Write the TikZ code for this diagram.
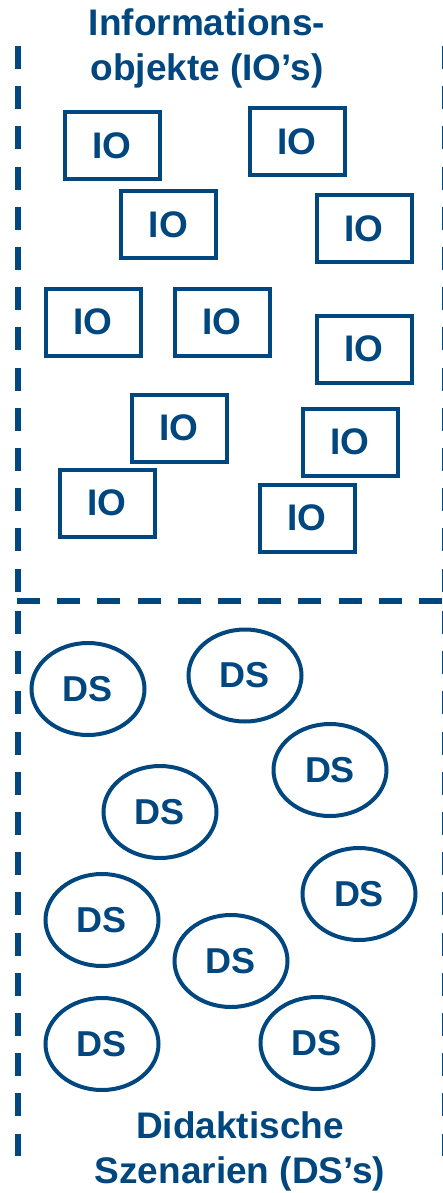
\documentclass[tikz,border=0pt]{standalone}
\usepackage{fontspec}
\setmainfont{Liberation Sans}
\usetikzlibrary{shapes.geometric}
\definecolor{darkblue}{RGB}{0,70,127}
\begin{document}
\begin{tikzpicture}[x=1pt,y=-1pt,
  iobox/.style={rectangle,draw=darkblue,text=darkblue,line width=4pt,
    minimum width=95pt,minimum height=67pt,inner sep=0pt,
    font=\fontsize{37}{40}\selectfont\bfseries},
  dsnode/.style={ellipse,draw=darkblue,text=darkblue,line width=4pt,
    minimum width=113pt,minimum height=92pt,inner sep=0pt,
    font=\fontsize{36}{40}\selectfont\bfseries},
  heading/.style={align=center,text=darkblue,inner sep=0pt,
    font=\fontsize{37}{45}\selectfont\bfseries},
  border/.style={draw=darkblue,line width=6pt,dash pattern=on 23pt off 17.2pt}]
  \useasboundingbox (0,0) rectangle (443,1193);
  % frame
  \draw[border] (17.5,46) -- (17.5,593);
  \draw[border] (17.5,611) -- (17.5,1156);
  \draw[border] (444.5,46) -- (444.5,593);
  \draw[border] (444.5,611) -- (444.5,1156);
  \draw[border] (17,601) -- (460,601);
  % information objects
  \node (iotitle) [heading,anchor=base] at (207,81) {Informations-\\objekte (IO’s)};
  \node (io1) [iobox] at (112,146) {IO};
  \node (io2) [iobox] at (297,142) {IO};
  \node (io3) [iobox] at (168.5,224.5) {IO};
  \node (io4) [iobox] at (364,228.5) {IO};
  \node (io5) [iobox] at (93,322) {IO};
  \node (io6) [iobox] at (222,322) {IO};
  \node (io7) [iobox] at (364,349) {IO};
  \node (io8) [iobox] at (179,428) {IO};
  \node (io9) [iobox] at (350,442) {IO};
  \node (io10) [iobox] at (107,503) {IO};
  \node (io11) [iobox] at (307,518) {IO};
  % didactic scenarios
  \node (ds1) [dsnode] at (88,689) {DS};
  \node (ds2) [dsnode] at (245,675.5) {DS};
  \node (ds3) [dsnode] at (330,770) {DS};
  \node (ds4) [dsnode] at (160,812) {DS};
  \node (ds5) [dsnode] at (359,894) {DS};
  \node (ds6) [dsnode] at (102,920) {DS};
  \node (ds7) [dsnode] at (231,961) {DS};
  \node (ds8) [dsnode] at (102,1044) {DS};
  \node (ds9) [dsnode] at (317,1043) {DS};
  \node (dstitle) [heading,anchor=base] at (240,1183) {Didaktische\\Szenarien (DS’s)};
\end{tikzpicture}
\end{document}
